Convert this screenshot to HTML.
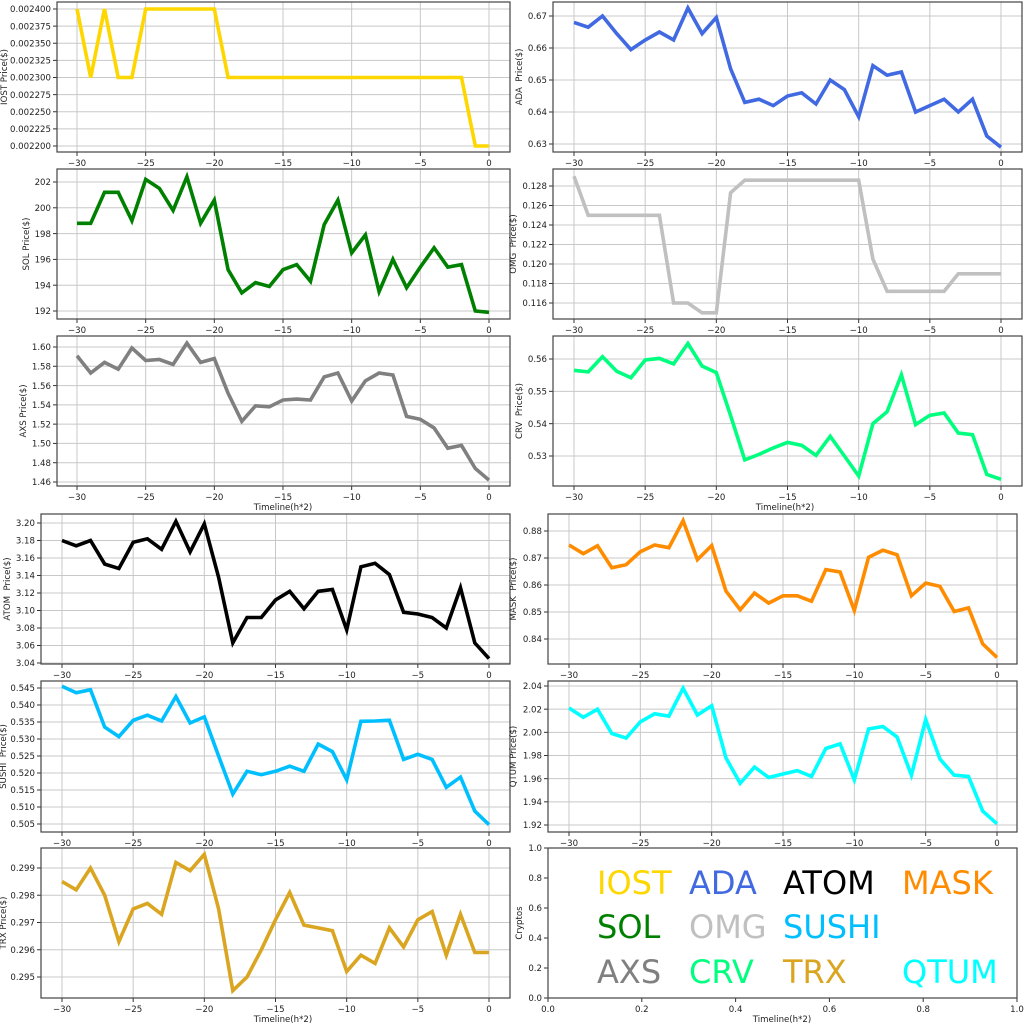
<!DOCTYPE html>
<html><head><meta charset="utf-8"><style>
html,body{margin:0;padding:0;background:#fff;}
svg{display:block;font-family:"DejaVu Sans","Liberation Sans",sans-serif;}
</style></head><body>
<svg id="s" width="1024" height="1024" viewBox="0 0 1024 1024" xmlns="http://www.w3.org/2000/svg"></svg>
<script>
const S=document.getElementById('s');let h='';const FS=8.6;
function P(o){
 const {l,r,t,b,x0,x1,ya,yb,va,vb,ticks,dec,data,color,label,lx}=o;
 const X=v=>x0+(v+30)*(x1-x0)/30;
 const Y=v=>ya+(v-va)*(yb-ya)/(vb-va);
 for(let v=-30;v<=0;v+=5){const x=X(v);h+=`<line x1="${x}" x2="${x}" y1="${t}" y2="${b}" stroke="#c8c8c8" stroke-width="1"/>`;
  h+=`<line x1="${x}" x2="${x}" y1="${b}" y2="${b+4}" stroke="#333"/>`;
  h+=`<text x="${x}" y="${b+14}" font-size="${FS}" text-anchor="middle" fill="#222">${v<0?'\u2212'+(-v):v}</text>`;}
 for(const v of ticks){const y=Y(v);h+=`<line x1="${l}" x2="${r}" y1="${y}" y2="${y}" stroke="#c8c8c8" stroke-width="1"/>`;
  h+=`<line x1="${l-4}" x2="${l}" y1="${y}" y2="${y}" stroke="#333"/>`;
  h+=`<text x="${l-6}" y="${y+3.2}" font-size="${FS}" text-anchor="end" fill="#222">${v.toFixed(dec)}</text>`;}
 const pts=data.map((v,i)=>X(i-30).toFixed(1)+','+Y(v).toFixed(1)).join(' ');
 h+=`<polyline points="${pts}" fill="none" stroke="${color}" stroke-width="3.6" stroke-linejoin="miter"/>`;
 h+=`<rect x="${l}" y="${t}" width="${r-l}" height="${b-t}" fill="none" stroke="#444" stroke-width="1.2"/>`;
 const cy=(t+b)/2;h+=`<text transform="translate(${lx},${cy}) rotate(-90)" font-size="${FS}" text-anchor="middle" fill="#222" style="white-space:pre" xml:space="preserve">${label}</text>`;
}
function rng(a,b,s){const r=[];for(let v=a;v<=b+s/2;v+=s)r.push(+v.toFixed(7));return r;}
P({l:57,r:510,t:2,b:152,x0:77,x1:489,ya:9,yb:146,va:0.0024,vb:0.0022,ticks:rng(0.0022,0.0024,0.000025),dec:6,color:'#ffd700',label:'IOST Price($)',lx:7,
data:[.0024,.0023,.0024,.0023,.0023,.0024,.0024,.0024,.0024,.0024,.0024,.0023,.0023,.0023,.0023,.0023,.0023,.0023,.0023,.0023,.0023,.0023,.0023,.0023,.0023,.0023,.0023,.0023,.0023,.0022,.0022]});
P({l:57,r:510,t:169,b:319,x0:77,x1:489,ya:182,yb:311,va:202,vb:192,ticks:rng(192,202,2),dec:0,color:'#008000',label:'SOL Price($)',lx:29,
data:[198.8,198.8,201.2,201.2,199.0,202.2,201.5,199.8,202.4,198.8,200.6,195.2,193.4,194.2,193.9,195.2,195.6,194.3,198.7,200.6,196.5,197.9,193.5,196.0,193.8,195.4,196.9,195.4,195.6,192.0,191.9]});
P({l:57,r:510,t:336,b:486,x0:77,x1:489,ya:347,yb:482,va:1.60,vb:1.46,ticks:rng(1.46,1.60,0.02),dec:2,color:'#808080',label:'AXS Price($)',lx:26,
data:[1.591,1.573,1.584,1.577,1.599,1.586,1.587,1.582,1.604,1.584,1.588,1.552,1.523,1.539,1.538,1.545,1.546,1.545,1.569,1.573,1.544,1.565,1.573,1.571,1.528,1.525,1.516,1.495,1.498,1.474,1.462]});
P({l:553,r:1022,t:2,b:152,x0:574,x1:1001,ya:16,yb:144,va:.67,vb:.63,ticks:rng(.63,.67,.01),dec:2,color:'#4169e1',label:'ADA  Price($)',lx:522,
data:[.668,.6665,.670,.6645,.6595,.6625,.665,.6625,.6725,.6645,.6695,.6535,.643,.644,.642,.645,.646,.6425,.650,.647,.6385,.6545,.6515,.6525,.640,.642,.644,.640,.644,.6325,.629]});
P({l:553,r:1022,t:169,b:319,x0:574,x1:1001,ya:186,yb:303,va:.128,vb:.116,ticks:rng(.116,.128,.002),dec:3,color:'#c0c0c0',label:'OMG  Price($)',lx:516,
data:[.129,.125,.125,.125,.125,.125,.125,.116,.116,.115,.115,.1273,.1286,.1286,.1286,.1286,.1286,.1286,.1286,.1286,.1286,.1205,.1172,.1172,.1172,.1172,.1172,.119,.119,.119,.119]});
P({l:553,r:1022,t:336,b:486,x0:574,x1:1001,ya:359,yb:456,va:.56,vb:.53,ticks:rng(.53,.56,.01),dec:2,color:'#00ff7f',label:'CRV  Price($)',lx:522,
data:[.5565,.556,.5607,.5562,.5542,.5597,.5602,.5585,.5648,.5578,.5558,.5425,.5288,.5305,.5325,.5342,.5333,.5302,.5361,.5300,.5238,.5400,.5437,.5551,.5397,.5426,.5433,.5371,.5366,.5243,.5228]});
P({l:41,r:510,t:514,b:664,x0:62,x1:489,ya:523,yb:663,va:3.20,vb:3.04,ticks:rng(3.04,3.20,.02),dec:2,color:'#000000',label:'ATOM  Price($)',lx:10,
data:[3.180,3.174,3.180,3.153,3.148,3.178,3.182,3.170,3.202,3.167,3.199,3.138,3.063,3.092,3.092,3.112,3.122,3.102,3.122,3.124,3.078,3.150,3.154,3.141,3.098,3.096,3.092,3.080,3.126,3.063,3.045]});
P({l:41,r:510,t:681,b:832,x0:62,x1:489,ya:688,yb:824,va:.545,vb:.505,ticks:rng(.505,.545,.005),dec:3,color:'#00bfff',label:'SUSHI  Price($)',lx:6,
data:[.5455,.5436,.5445,.5335,.5307,.5355,.537,.5353,.5425,.5347,.5365,.525,.5138,.5205,.5195,.5205,.522,.5205,.5285,.5263,.518,.5352,.5353,.5355,.524,.5255,.524,.5158,.5188,.5088,.5048]});
P({l:41,r:510,t:848,b:998,x0:62,x1:489,ya:868,yb:977,va:.299,vb:.295,ticks:rng(.295,.299,.001),dec:3,color:'#daa520',label:'TRX Price($)',lx:6,
data:[.2985,.2982,.299,.298,.2963,.2975,.2977,.2973,.2992,.2989,.2995,.2975,.2945,.295,.296,.2971,.2981,.2969,.2968,.2967,.2952,.2958,.2955,.2968,.2961,.2971,.2974,.2958,.2973,.2959,.2959]});
P({l:548,r:1017,t:514,b:664,x0:569,x1:997,ya:531,yb:639,va:.88,vb:.84,ticks:rng(.84,.88,.01),dec:2,color:'#ff8c00',label:'MASK  Price($)',lx:516,
data:[.8748,.8716,.8745,.8664,.8675,.8723,.8748,.8738,.8838,.8694,.8746,.8578,.8508,.857,.8533,.856,.856,.854,.8657,.8648,.8506,.8703,.8729,.8712,.856,.8607,.8595,.8502,.8515,.8382,.8332]});
P({l:548,r:1017,t:681,b:832,x0:569,x1:997,ya:686,yb:825,va:2.04,vb:1.92,ticks:rng(1.92,2.04,.02),dec:2,color:'#00ffff',label:'QTUM Price($)',lx:516,
data:[2.021,2.013,2.020,1.999,1.995,2.009,2.016,2.014,2.038,2.015,2.023,1.978,1.956,1.970,1.961,1.964,1.967,1.962,1.986,1.990,1.959,2.003,2.005,1.996,1.963,2.011,1.977,1.963,1.962,1.932,1.921]});
{const l=548,r=1017,t=848,b=998;
 for(let i=0;i<=5;i++){const v=i/5;const x=l+v*(r-l),y=b-v*(b-t);
  h+=`<line x1="${x}" x2="${x}" y1="${b}" y2="${b+4}" stroke="#333"/><text x="${x}" y="${b+14}" font-size="${FS}" text-anchor="middle" fill="#222">${v.toFixed(1)}</text>`;
  h+=`<line x1="${l-4}" x2="${l}" y1="${y}" y2="${y}" stroke="#333"/><text x="${l-6}" y="${y+3.2}" font-size="${FS}" text-anchor="end" fill="#222">${v.toFixed(1)}</text>`;}
 h+=`<rect x="${l}" y="${t}" width="${r-l}" height="${b-t}" fill="none" stroke="#444" stroke-width="1.2"/>`;
 h+=`<text transform="translate(522,923) rotate(-90)" font-size="${FS}" text-anchor="middle" fill="#222">Cryptos</text>`;
 const L=[['IOST','#ffd700',597,894],['ADA','#4169e1',689,894],['ATOM','#000',783,894],['MASK','#ff8c00',902,894],
 ['SOL','#008000',597,938],['OMG','#c0c0c0',689,938],['SUSHI','#00bfff',783,938],
 ['AXS','#808080',597,983],['CRV','#00ff7f',689,983],['TRX','#daa520',783,983],['QTUM','#00ffff',902,983]];
 for(const [s,c,x,y] of L)h+=`<text x="${x}" y="${y}" font-size="32" fill="${c}">${s}</text>`;
}
for(const [x,y] of [[283,510],[785,510],[283,1022],[782,1022]])h+=`<text x="${x}" y="${y}" font-size="${FS}" text-anchor="middle" fill="#222">Timeline(h*2)</text>`;
S.innerHTML=h;
</script>
</body></html>
